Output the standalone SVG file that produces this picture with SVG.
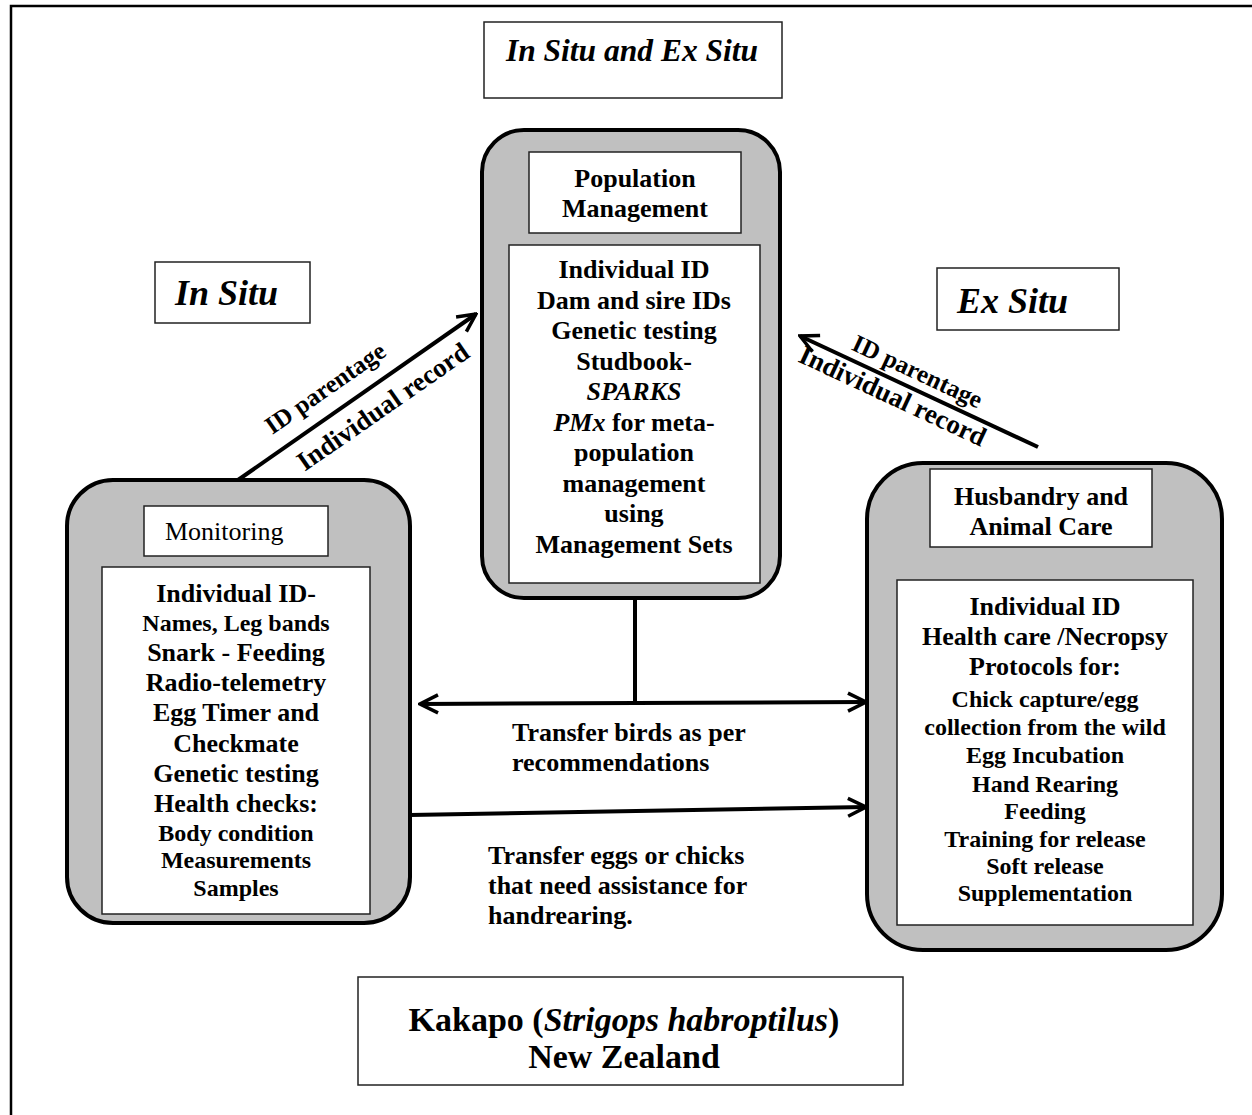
<svg xmlns="http://www.w3.org/2000/svg" width="1252" height="1115" viewBox="0 0 1252 1115">
<style>
text{font-family:"Liberation Serif","Times New Roman",serif;fill:#000}
.b{font-weight:bold}
.bi{font-weight:bold;font-style:italic}
.m{text-anchor:middle}
.f26{font-size:26px}
.f24{font-size:24px}
.f36{font-size:36px}
.outer{fill:#c0c0c0;stroke:#000;stroke-width:4}
.inner{fill:#fff;stroke:#222;stroke-width:1.5}
.box{fill:#fff;stroke:#222;stroke-width:1.5}
.conn{stroke:#000;stroke-width:4;fill:none}
</style>
<defs>
<marker id="arr" viewBox="0 0 24 24" refX="22" refY="12" markerWidth="24" markerHeight="24" markerUnits="userSpaceOnUse" orient="auto-start-reverse">
<path d="M4,3 L22,12 L4,21" fill="none" stroke="#000" stroke-width="3.5"/>
</marker>
</defs>
<rect width="1252" height="1115" fill="#fff"/>
<path d="M11,1115 L11,6 L1252,6" fill="none" stroke="#000" stroke-width="2.5"/>

<g id="title">
<rect class="box" x="484" y="22" width="298" height="76"/>
<text class="bi m" x="632" y="61" style="font-size:31.5px">In Situ and Ex Situ</text>
</g>

<g id="in-situ-label">
<rect class="box" x="155" y="262" width="155" height="61"/>
<text class="bi f36" x="175" y="305">In Situ</text>
</g>

<g id="ex-situ-label">
<rect class="box" x="937" y="268" width="182" height="62"/>
<text class="bi f36" x="957" y="313">Ex Situ</text>
</g>

<g id="connectors">
<line class="conn" x1="238" y1="480" x2="476" y2="314" marker-end="url(#arr)"/>
<line class="conn" x1="1038" y1="447" x2="800" y2="336" marker-end="url(#arr)"/>
<line class="conn" x1="635" y1="598" x2="635" y2="703"/>
<line class="conn" x1="420" y1="704" x2="866" y2="702" marker-start="url(#arr)" marker-end="url(#arr)"/>
<line class="conn" x1="410" y1="815" x2="866" y2="807" marker-end="url(#arr)"/>
<text class="b" style="font-size:25px" text-anchor="middle" transform="translate(330,395) rotate(-34.8)">ID parentage</text>
<text class="b" style="font-size:27px" text-anchor="middle" transform="translate(388,414) rotate(-34.8)">Individual record</text>
<text class="b" style="font-size:25px" text-anchor="middle" transform="translate(914,379) rotate(25)">ID parentage</text>
<text class="b" style="font-size:27px" text-anchor="middle" transform="translate(889,404) rotate(25)">Individual record</text>
<text class="b f26" x="512" y="741">Transfer birds as per</text>
<text class="b f26" x="512" y="771">recommendations</text>
<text class="b f26" x="488" y="864">Transfer eggs or chicks</text>
<text class="b f26" x="488" y="894">that need assistance for</text>
<text class="b f26" x="488" y="924">handrearing.</text>
</g>

<g id="population-management">
<rect class="outer" x="482" y="130" width="298" height="468" rx="42" ry="42"/>
<rect class="box" x="529" y="152" width="212" height="81"/>
<text class="b f26 m" x="635" y="187">Population</text>
<text class="b f26 m" x="635" y="217">Management</text>
<rect class="inner" x="509" y="245" width="251" height="338"/>
<text class="b f26 m" x="634" y="278">Individual ID</text>
<text class="b f26 m" x="634" y="308.5">Dam and sire IDs</text>
<text class="b f26 m" x="634" y="339">Genetic testing</text>
<text class="b f26 m" x="634" y="369.5">Studbook-</text>
<text class="bi f26 m" x="634" y="400">SPARKS</text>
<text class="b f26 m" x="634" y="430.5"><tspan font-style="italic">PMx</tspan> for meta-</text>
<text class="b f26 m" x="634" y="461">population</text>
<text class="b f26 m" x="634" y="491.5">management</text>
<text class="b f26 m" x="634" y="522">using</text>
<text class="b f26 m" x="634" y="552.5">Management Sets</text>
</g>

<g id="monitoring">
<rect class="outer" x="67" y="480" width="343" height="443" rx="46" ry="46"/>
<rect class="box" x="144" y="506" width="184" height="50"/>
<text style="font-size:26px" x="165" y="540">Monitoring</text>
<rect class="inner" x="102" y="567" width="268" height="347"/>
<text class="b f26 m" x="236" y="602">Individual ID-</text>
<text class="b f24 m" x="236" y="631">Names, Leg bands</text>
<text class="b f26 m" x="236" y="661">Snark - Feeding</text>
<text class="b f26 m" x="236" y="691">Radio-telemetry</text>
<text class="b f26 m" x="236" y="721">Egg Timer and</text>
<text class="b f26 m" x="236" y="752">Checkmate</text>
<text class="b f26 m" x="236" y="782">Genetic testing</text>
<text class="b f26 m" x="236" y="812">Health checks:</text>
<text class="b f24 m" x="236" y="841">Body condition</text>
<text class="b f24 m" x="236" y="868">Measurements</text>
<text class="b f24 m" x="236" y="896">Samples</text>
</g>

<g id="husbandry">
<rect class="outer" x="867" y="463" width="355" height="487" rx="56" ry="56"/>
<rect class="box" x="930" y="469" width="222" height="78"/>
<text class="b f26 m" x="1041" y="505">Husbandry and</text>
<text class="b f26 m" x="1041" y="535">Animal Care</text>
<rect class="inner" x="897" y="580" width="296" height="345"/>
<text class="b f26 m" x="1045" y="615">Individual ID</text>
<text class="b f26 m" x="1045" y="645">Health care /Necropsy</text>
<text class="b f26 m" x="1045" y="675">Protocols for:</text>
<text class="b f24 m" x="1045" y="707">Chick capture/egg</text>
<text class="b f24 m" x="1045" y="735">collection from the wild</text>
<text class="b f24 m" x="1045" y="763">Egg Incubation</text>
<text class="b f24 m" x="1045" y="792">Hand Rearing</text>
<text class="b f24 m" x="1045" y="819">Feeding</text>
<text class="b f24 m" x="1045" y="847">Training for release</text>
<text class="b f24 m" x="1045" y="874">Soft release</text>
<text class="b f24 m" x="1045" y="901">Supplementation</text>
</g>

<g id="species">
<rect class="box" x="358" y="977" width="545" height="108"/>
<text class="b m" style="font-size:34px" x="624" y="1031">Kakapo (<tspan font-style="italic">Strigops habroptilus</tspan>)</text>
<text class="b m" style="font-size:34px" x="624" y="1068">New Zealand</text>
</g>
</svg>
